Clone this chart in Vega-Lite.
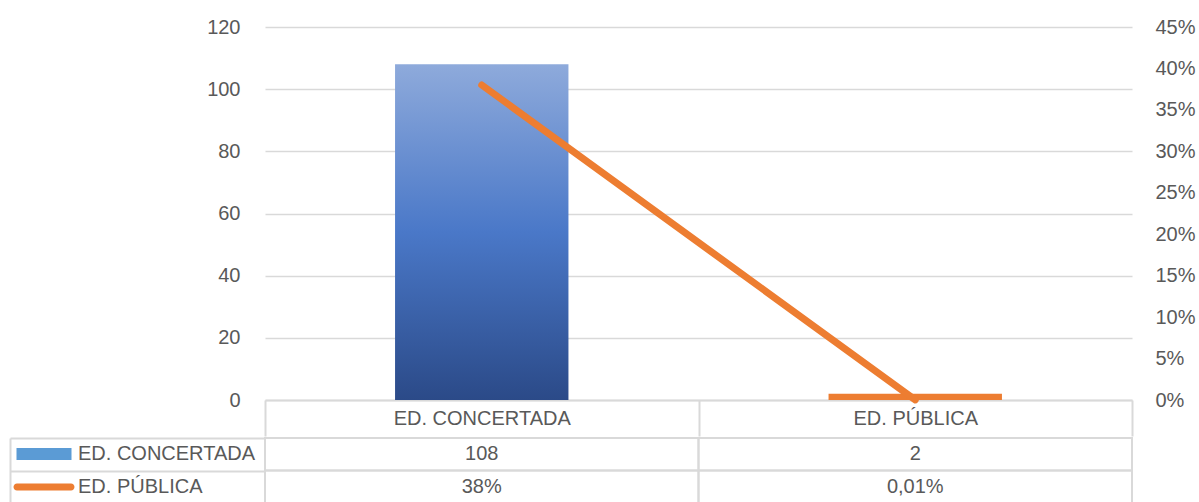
{
  "$schema": "https://vega.github.io/schema/vega-lite/v6.json",
  "padding": {"left": 9, "top": 17, "right": 0, "bottom": 0},
  "background": "white",
  "spacing": 0,
  "config": {
    "view": {"stroke": null},
    "font": "Liberation Sans",
    "axis": {"labelFont": "Liberation Sans", "labelFontSize": 20, "labelColor": "#595959"},
    "legend": {"labelFont": "Liberation Sans"}
  },
  "resolve": {"scale": {"color": "independent", "shape": "independent"}},
  "vconcat": [
    {
      "width": 867,
      "height": 373,
      "data": {"values": [
        {"cat": "ED. CONCERTADA", "value": 108, "pct": 0.38},
        {"cat": "ED. PÚBLICA", "value": 2, "pct": 0.0001}
      ]},
      "encoding": {
        "x": {
          "field": "cat", "type": "nominal", "sort": null,
          "scale": {"paddingInner": 0, "paddingOuter": 0},
          "axis": {
            "title": null, "labelAngle": 0, "tickBand": "extent", "tickSize": 36,
            "tickColor": "#D9D9D9", "tickWidth": 2, "domainColor": "#D9D9D9", "domainWidth": 2,
            "labelPadding": -18, "labelBaseline": "middle"
          }
        }
      },
      "layer": [
        {
          "mark": {"type": "bar", "width": {"band": 0.4}},
          "encoding": {
            "y": {
              "field": "value", "type": "quantitative",
              "scale": {"domain": [0, 120]},
              "axis": {
                "title": null, "values": [0, 20, 40, 60, 80, 100, 120], "grid": true,
                "gridColor": "#D9D9D9", "gridWidth": 1.5, "domain": false, "ticks": false,
                "labelPadding": 25
              }
            },
            "color": {
              "condition": {
                "test": "datum.cat === 'ED. CONCERTADA'",
                "value": {
                  "gradient": "linear", "x1": 0, "y1": 0, "x2": 0, "y2": 1,
                  "stops": [
                    {"offset": 0, "color": "#8EAADB"},
                    {"offset": 0.5, "color": "#4A78C8"},
                    {"offset": 1, "color": "#2B4A88"}
                  ]
                }
              },
              "value": "#ED7D31"
            }
          }
        },
        {
          "mark": {"type": "line", "color": "#ED7D31", "strokeWidth": 7, "strokeCap": "round"},
          "encoding": {
            "y": {
              "field": "pct", "type": "quantitative",
              "scale": {"domain": [0, 0.45]},
              "axis": {
                "orient": "right", "title": null, "format": ".0%",
                "values": [0, 0.05, 0.1, 0.15, 0.2, 0.25, 0.3, 0.35, 0.4, 0.45],
                "grid": false, "domain": false, "ticks": false, "labelPadding": 23
              }
            }
          }
        }
      ],
      "resolve": {"scale": {"y": "independent"}}
    },
    {
      "width": 867,
      "height": 65,
      "data": {"values": [
        {"row": "ED. CONCERTADA", "cat": "ED. CONCERTADA", "label": "108"},
        {"row": "ED. CONCERTADA", "cat": "ED. PÚBLICA", "label": "2"},
        {"row": "ED. PÚBLICA", "cat": "ED. CONCERTADA", "label": "38%"},
        {"row": "ED. PÚBLICA", "cat": "ED. PÚBLICA", "label": "0,01%"}
      ]},
      "encoding": {
        "x": {"field": "cat", "type": "nominal", "sort": null, "scale": {"padding": 0}, "axis": null},
        "y": {
          "field": "row", "type": "nominal", "sort": null, "scale": {"padding": 0},
          "axis": {
            "title": null, "orient": "left", "offset": 255, "labels": false,
            "domainColor": "#D9D9D9", "domainWidth": 2,
            "tickBand": "extent", "tickSize": -255, "tickColor": "#D9D9D9", "tickWidth": 2
          }
        }
      },
      "layer": [
        {"mark": {"type": "rect", "fill": "transparent", "stroke": "#D9D9D9", "strokeWidth": 2}},
        {
          "mark": {"type": "text", "fontSize": 20, "color": "#595959", "font": "Liberation Sans"},
          "encoding": {"text": {"field": "label"}}
        },
        {
          "mark": {"type": "point", "opacity": 0, "filled": true},
          "encoding": {
            "color": {
              "field": "row", "type": "nominal", "sort": null,
              "scale": {"domain": ["ED. CONCERTADA", "ED. PÚBLICA"], "range": ["#5B9BD5", "#ED7D31"]},
              "legend": {
                "title": null, "orient": "none", "legendX": -231, "legendY": 6,
                "symbolSize": 400, "symbolOpacity": 1, "symbolStrokeWidth": 0,
                "labelFontSize": 20, "labelColor": "#595959", "labelOffset": 24,
                "rowPadding": 13, "padding": 0, "offset": 0, "labelLimit": 300
              }
            },
            "shape": {
              "field": "row", "type": "nominal", "sort": null,
              "scale": {
                "domain": ["ED. CONCERTADA", "ED. PÚBLICA"],
                "range": ["M-2.75,-0.6H2.75V0.6H-2.75Z", "M-2.7,-0.35H2.7A0.35,0.35 0 0 1 2.7,0.35H-2.7A0.35,0.35 0 0 1 -2.7,-0.35Z"]
              },
              "legend": {
                "title": null, "orient": "none", "legendX": -231, "legendY": 6,
                "symbolSize": 400, "symbolOpacity": 1, "symbolStrokeWidth": 0,
                "labelFontSize": 20, "labelColor": "#595959", "labelOffset": 24,
                "rowPadding": 13, "padding": 0, "offset": 0, "labelLimit": 300
              }
            }
          }
        }
      ]
    }
  ]
}
